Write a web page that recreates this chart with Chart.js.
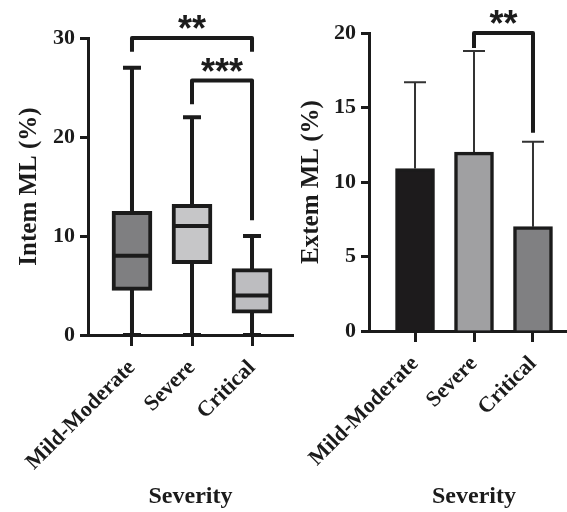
<!DOCTYPE html>
<html>
<head>
<meta charset="utf-8">
<script src="https://cdn.jsdelivr.net/npm/chart.js@4.4.1/dist/chart.umd.min.js"></script>
<style>
  html, body { margin: 0; padding: 0; background: #fff; overflow: hidden; width: 567px; height: 512px; }
  #left { position: absolute; left: 0; top: 0; }
  #right { position: absolute; left: 295px; top: 0; }
</style>
</head>
<body>
<canvas id="left" width="295" height="512"></canvas>
<canvas id="right" width="284" height="512"></canvas>
<script>
const categories = ["Mild-Moderate", "Severe", "Critical"];

// left panel: box plot, whiskers min to max
const intemMin = [0, 0, 0];
const intemQ1 = [4.5, 7.2, 2.2];
const intemMedian = [8, 11, 4];
const intemQ3 = [12.5, 13.2, 6.7];
const intemMax = [27, 22, 10];
const intemTicks = [0, 10, 20, 30];

// right panel: mean + SD
const extemMean = [10.9, 12.0, 7.0];
const extemSD = [5.8, 6.8, 5.7];
const extemTicks = [0, 5, 10, 15, 20];

// significance brackets: level and leg ends in data units
const intemSig = [
  { from: 0, to: 2, level: 30, legs: [28.6, 28.6], label: "**" },
  { from: 1, to: 2, level: 25.7, legs: [23.3, 11.6], label: "***" },
];
const extemSig = [
  { from: 1, to: 2, level: 20, legs: [19.0, 13.3], label: "**" },
];

const ink = "#1b1b1b";
const serif = "'Liberation Serif', 'Times New Roman', serif";
const boldSerif = (size) => ({ family: serif, size: size, weight: "bold" });

const xAxis = (min, max, height) => ({
  type: "linear",
  min: min,
  max: max,
  offset: false,
  afterBuildTicks: (scale) => {
    scale.ticks = categories.map((c, i) => ({ value: i }));
  },
  afterFit: (scale) => {
    scale.height = height;
    // long rotated labels should not push the plot area around
    scale.paddingLeft = 0;
    scale.paddingRight = 0;
  },
  ticks: {
    autoSkip: false,
    minRotation: 45,
    maxRotation: 45,
    padding: 9,
    color: ink,
    font: boldSerif(22),
    callback: (v, i) => categories[i],
  },
  grid: { offset: false, drawOnChartArea: false, tickLength: 11, tickWidth: 3, tickColor: ink },
  border: { color: ink, width: 3 },
  title: {
    display: true,
    text: "Severity",
    color: ink,
    font: boldSerif(24),
    padding: { top: 0, bottom: 1 },
  },
});

const yAxis = (tickList, width, title, titlePad) => ({
  min: tickList[0],
  max: tickList[tickList.length - 1],
  afterBuildTicks: (scale) => {
    scale.ticks = tickList.map((v) => ({ value: v }));
  },
  afterFit: (scale) => {
    scale.width = width;
  },
  ticks: { padding: 5, color: ink, font: boldSerif(22) },
  grid: { drawOnChartArea: false, tickLength: 8, tickWidth: 3, tickColor: ink },
  border: { color: ink, width: 3 },
  title: {
    display: true,
    text: title,
    color: ink,
    font: boldSerif(25),
    padding: { top: titlePad, bottom: 0 },
  },
});

const drawBrackets = (chart, sig) => {
  const { ctx } = chart;
  const { x, y } = chart.scales;
  ctx.save();
  ctx.strokeStyle = ink;
  ctx.fillStyle = ink;
  ctx.lineWidth = 4;
  ctx.lineJoin = "round";
  sig.forEach(({ from, to, level, legs, label }) => {
    const x1 = x.getPixelForValue(from);
    const x2 = x.getPixelForValue(to);
    const top = y.getPixelForValue(level);
    ctx.beginPath();
    ctx.moveTo(x1, y.getPixelForValue(legs[0]));
    ctx.lineTo(x1, top);
    ctx.lineTo(x2, top);
    ctx.lineTo(x2, y.getPixelForValue(legs[1]));
    ctx.stroke();
    ctx.font = "bold 36px 'Liberation Sans', Arial, sans-serif";
    ctx.textAlign = "center";
    ctx.textBaseline = "alphabetic";
    ctx.fillText(label, (x1 + x2) / 2, top + 3);
  });
  ctx.restore();
};

const boxPlugin = {
  id: "boxWhiskers",
  beforeDatasetsDraw(chart) {
    const { ctx } = chart;
    const { x, y } = chart.scales;
    ctx.save();
    ctx.strokeStyle = ink;
    ctx.lineWidth = 4;
    categories.forEach((c, i) => {
      const px = x.getPixelForValue(i);
      ctx.beginPath();
      ctx.moveTo(px, y.getPixelForValue(intemMin[i]));
      ctx.lineTo(px, y.getPixelForValue(intemMax[i]));
      [intemMin[i], intemMax[i]].forEach((v) => {
        const py = y.getPixelForValue(v);
        ctx.moveTo(px - 9, py);
        ctx.lineTo(px + 9, py);
      });
      ctx.stroke();
    });
    ctx.restore();
  },
  afterDatasetsDraw(chart) {
    const { ctx } = chart;
    const { x, y } = chart.scales;
    ctx.save();
    ctx.strokeStyle = ink;
    ctx.lineWidth = 4;
    categories.forEach((c, i) => {
      const px = x.getPixelForValue(i);
      const py = y.getPixelForValue(intemMedian[i]);
      ctx.beginPath();
      ctx.moveTo(px - 18, py);
      ctx.lineTo(px + 18, py);
      ctx.stroke();
    });
    ctx.restore();
  },
  afterDraw(chart) {
    drawBrackets(chart, intemSig);
  },
};

const errorPlugin = {
  id: "errorBars",
  beforeDatasetsDraw(chart) {
    const { ctx } = chart;
    const { x, y } = chart.scales;
    ctx.save();
    ctx.strokeStyle = "#333";
    ctx.lineWidth = 2;
    categories.forEach((c, i) => {
      const px = x.getPixelForValue(i);
      const top = y.getPixelForValue(extemMean[i] + extemSD[i]);
      ctx.beginPath();
      ctx.moveTo(px, y.getPixelForValue(extemMean[i]));
      ctx.lineTo(px, top);
      ctx.moveTo(px - 11, top);
      ctx.lineTo(px + 11, top);
      ctx.stroke();
    });
    ctx.restore();
  },
  afterDraw(chart) {
    drawBrackets(chart, extemSig);
  },
};

const baseOptions = {
  responsive: false,
  animation: false,
  plugins: { legend: { display: false }, tooltip: { enabled: false } },
};

new Chart(document.getElementById("left"), {
  type: "bar",
  data: {
    datasets: [
      {
        data: categories.map((c, i) => ({ x: i, y: [intemQ1[i], intemQ3[i]] })),
        backgroundColor: ["#7f7f81", "#c6c6c8", "#bdbdc0"],
        borderColor: ink,
        borderWidth: 4,
        borderSkipped: false,
        barThickness: 40,
      },
    ],
  },
  options: {
    ...baseOptions,
    layout: { padding: { top: 38, right: 2, left: 0, bottom: 0 } },
    scales: {
      x: xAxis(-0.733, 2.683, 177),
      y: yAxis(intemTicks, 88, "Intem ML (%)", 15),
    },
  },
  plugins: [boxPlugin],
});

new Chart(document.getElementById("right"), {
  type: "bar",
  data: {
    datasets: [
      {
        data: categories.map((c, i) => ({ x: i, y: extemMean[i] })),
        backgroundColor: ["#1d1b1c", "#a0a0a2", "#808082"],
        borderColor: ink,
        borderWidth: 3.5,
        barThickness: 39,
      },
    ],
  },
  options: {
    ...baseOptions,
    layout: { padding: { top: 33, right: 0, left: 0, bottom: 0 } },
    scales: {
      x: xAxis(-0.78, 2.78, 181),
      y: yAxis(extemTicks, 74, "Extem ML (%)", 2),
    },
  },
  plugins: [errorPlugin],
});
</script>
</body>
</html>
